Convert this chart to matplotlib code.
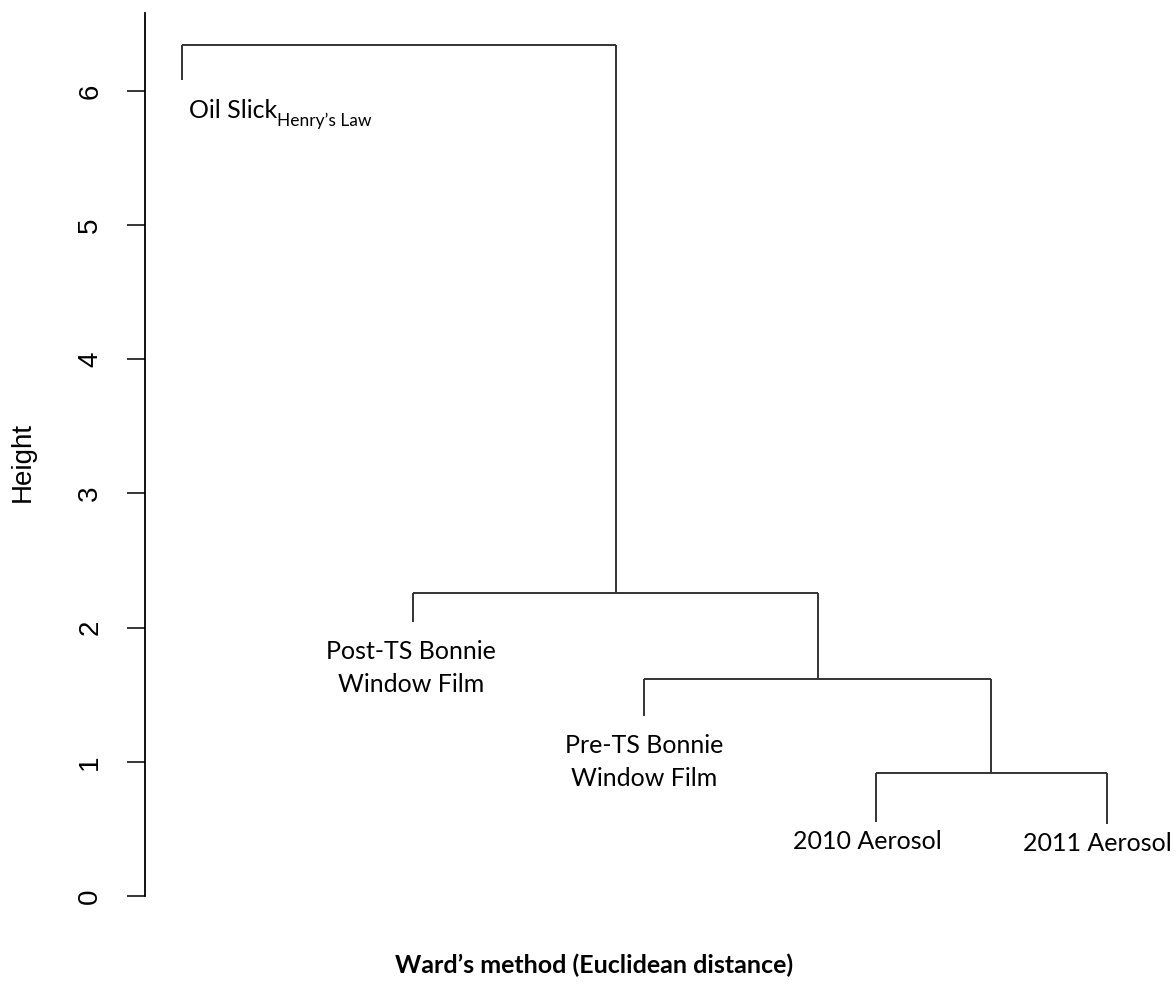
import matplotlib
matplotlib.use("Agg")
import matplotlib.pyplot as plt

# Leaves in plotting order (left to right) and where each leaf stem ends
leaf_labels = ["Oil Slick", "Post-TS Bonnie\nWindow Film", "Pre-TS Bonnie\nWindow Film",
               "2010 Aerosol", "2011 Aerosol"]
leaf_heights = [6.08, 2.04, 1.34, 0.55, 0.54]

# Merges (Ward's linkage): pair of clusters -> height
# clusters 0..4 are leaves, 5.. are merged nodes in creation order
merge_pairs = [(3, 4), (2, 5), (1, 6), (0, 7)]
merge_heights = [0.92, 1.62, 2.26, 6.34]

y_ticks = [0, 1, 2, 3, 4, 5, 6]

W, H = 1176, 988
fig = plt.figure(figsize=(W / 100, H / 100), dpi=100)
ax = fig.add_axes([145 / W, 1 - 896 / H, 999 / W, 883 / H])

line_kw = dict(color="#333333", lw=1.4, solid_capstyle="butt")

# node x positions / tops
node_x = [float(i + 1) for i in range(len(leaf_labels))]
node_top = list(leaf_heights)
for (a, b), h in zip(merge_pairs, merge_heights):
    xa, xb = node_x[a], node_x[b]
    ax.plot([xa, xa], [node_top[a], h], **line_kw)
    ax.plot([xb, xb], [node_top[b], h], **line_kw)
    ax.plot([xa, xb], [h, h], **line_kw)
    node_x.append((xa + xb) / 2)
    node_top.append(h)

label_font = "Lato"
label_size = 18

# leaf labels under the stems (pixel offsets from the stem end)
label_shift = [None, (-2, -18), (0, -18), (-8, -8), (-10, -8)]
for i, lab in enumerate(leaf_labels):
    if i == 0:
        continue
    ax.annotate(lab, xy=(node_x[i], leaf_heights[i]), xytext=label_shift[i],
                textcoords="offset pixels", ha="center", va="top",
                fontsize=label_size, family=label_font, linespacing=1.5,
                color="black", annotation_clip=False)

oil = ax.annotate(leaf_labels[0], xy=(node_x[0], leaf_heights[0]), xytext=(7, -38),
                  textcoords="offset pixels", ha="left", va="baseline",
                  fontsize=label_size, family=label_font, color="black")
ax.annotate("Henry\u2019s Law", xy=(1, 0), xycoords=oil, xytext=(0, -4),
            textcoords="offset pixels", ha="left", va="baseline",
            fontsize=12.5, family=label_font, color="black")

ax.set_xlim(1 - 37 / 231, 5 + 37 / 231)
ax.set_ylim(0, 6.58)

for s in ["top", "right", "bottom"]:
    ax.spines[s].set_visible(False)
ax.spines["left"].set_linewidth(1.3)
ax.set_xticks([])
ax.set_yticks(y_ticks)
ax.set_yticklabels([str(t) for t in y_ticks], rotation=90, va="center",
                   fontsize=20, family="Liberation Sans")
ax.tick_params(axis="y", length=13, width=1.1, pad=17)

fig.text(23 / W, 1 - 462 / H, "Height", rotation=90, ha="center", va="center",
         fontsize=20, family="Liberation Sans")

fig.text(594 / W, 1 - 965 / H, "Ward\u2019s method (Euclidean distance)",
         ha="center", va="center", fontsize=18, fontweight="bold", family=label_font)

fig.savefig("out.png", dpi=100)
